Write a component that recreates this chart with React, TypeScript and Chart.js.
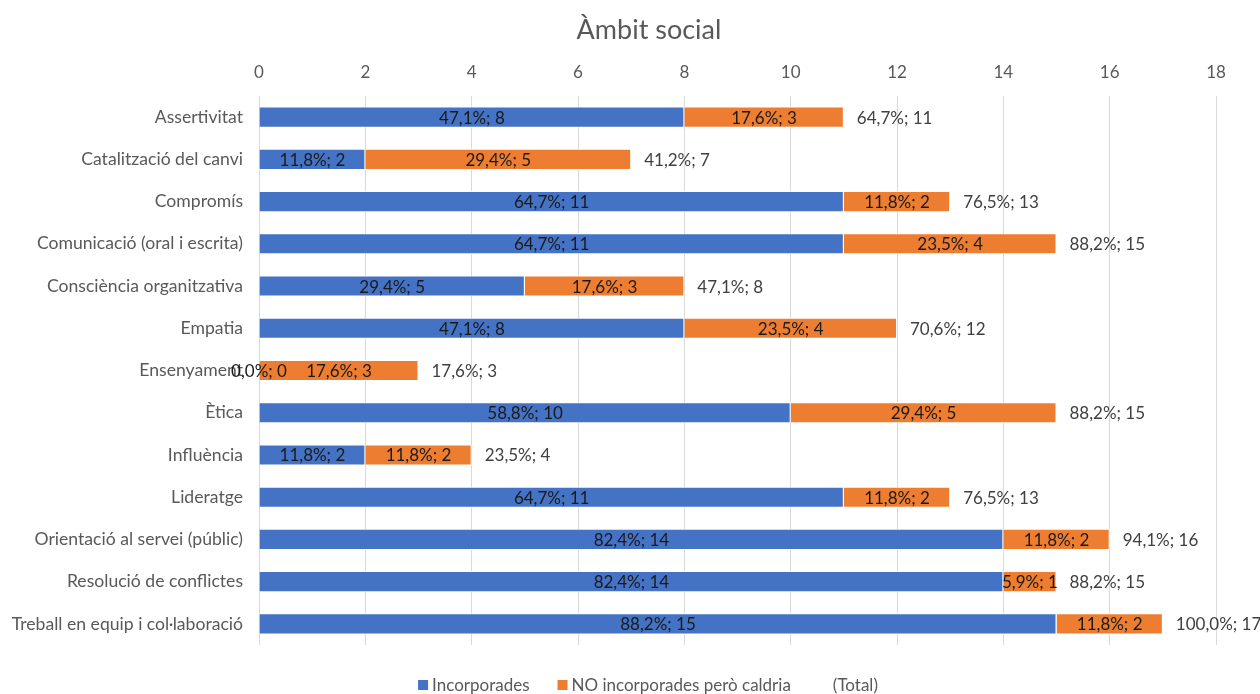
import React, { useEffect, useRef } from "react";
import { Chart, registerables } from "chart.js";

Chart.register(...registerables);

const categories = [
  "Assertivitat",
  "Catalització del canvi",
  "Compromís",
  "Comunicació (oral i escrita)",
  "Consciència organitzativa",
  "Empatia",
  "Ensenyament",
  "Ètica",
  "Influència",
  "Lideratge",
  "Orientació al servei (públic)",
  "Resolució de conflictes",
  "Treball en equip i col·laboració",
];

const incorporades = [8, 2, 11, 11, 5, 8, 0, 10, 2, 11, 14, 14, 15];
const noIncorporades = [3, 5, 2, 4, 3, 4, 3, 5, 2, 2, 2, 1, 2];
const totalMarker = [0, 0, 0, 0, 0, 0, 0, 0, 0, 0, 0, 0, 0];
const respondents = 17;
const xTicks = [0, 2, 4, 6, 8, 10, 12, 14, 16, 18];
const titleText = "Àmbit social";

const BLUE = "#4472C4";
const ORANGE = "#ED7D31";
const FONT = "Lato, 'Open Sans', sans-serif";
const FS = 17;

const pct = (v: number) => ((v / respondents) * 100).toFixed(1).replace(".", ",") + "%";

const labelsPlugin = {
  id: "segLabels",
  afterDatasetsDraw(chart: any) {
    const ctx = chart.ctx;
    ctx.save();
    ctx.font = `${FS}px ${FONT}`;
    ctx.textBaseline = "middle";
    [0, 1].forEach((di) => {
      const meta = chart.getDatasetMeta(di);
      const data = chart.data.datasets[di].data as number[];
      meta.data.forEach((el: any, i: number) => {
        const { x, base, y } = el.getProps(["x", "base", "y"], true);
        ctx.fillStyle = "#1a1a1a";
        ctx.textAlign = "center";
        ctx.fillText(`${pct(data[i])}; ${data[i]}`, (x + base) / 2, y + 1);
      });
    });
    const meta2 = chart.getDatasetMeta(2);
    meta2.data.forEach((el: any, i: number) => {
      const { x, y } = el.getProps(["x", "y"], true);
      const t = incorporades[i] + noIncorporades[i];
      ctx.fillStyle = "#404040";
      ctx.textAlign = "left";
      ctx.fillText(`${pct(t)}; ${t}`, x + 13, y + 1);
    });
    ctx.restore();
  },
};

const legendPlugin = {
  id: "customLegend",
  afterDraw(chart: any) {
    const ctx = chart.ctx;
    ctx.save();
    // title
    ctx.font = `27px ${FONT}`;
    ctx.fillStyle = "#595959";
    ctx.textAlign = "center";
    ctx.textBaseline = "middle";
    ctx.fillText(titleText, 649, 30);
    // legend
    ctx.font = `${FS}px ${FONT}`;
    ctx.textBaseline = "middle";
    ctx.textAlign = "left";
    const items = chart.data.datasets.map((d: any) => ({ label: d.label, color: d.backgroundColor }));
    const box = 10, gapBox = 4, gapItem = 28;
    const widths = items.map((it: any) => box + gapBox + ctx.measureText(it.label).width);
    const total = widths.reduce((a: number, b: number) => a + b, 0) + gapItem * (items.length - 1);
    let x = 648 - total / 2;
    const y = 685;
    items.forEach((it: any, i: number) => {
      if (it.color !== "transparent") {
        ctx.fillStyle = it.color;
        ctx.fillRect(x, y - 5, box, box);
      }
      ctx.fillStyle = "#595959";
      ctx.fillText(it.label, x + box + gapBox, y + 1);
      x += widths[i] + gapItem;
    });
    ctx.restore();
  },
};

export default function App() {
  const ref = useRef<HTMLCanvasElement>(null);
  useEffect(() => {
    document.body.style.margin = "0";
    const chart = new Chart(ref.current!, {
      type: "bar",
      data: {
        labels: categories,
        datasets: [
          {
            label: "Incorporades",
            data: incorporades,
            backgroundColor: BLUE,
            borderColor: "#ffffff",
            borderWidth: 1,
            barPercentage: 0.5,
            categoryPercentage: 1,
          },
          {
            label: "NO incorporades però caldria",
            data: noIncorporades,
            backgroundColor: ORANGE,
            borderColor: "#ffffff",
            borderWidth: 1,
            barPercentage: 0.5,
            categoryPercentage: 1,
          },
          {
            label: "(Total)",
            data: totalMarker,
            backgroundColor: "transparent",
            borderWidth: 0,
            barPercentage: 0.5,
            categoryPercentage: 1,
          },
        ],
      },
      options: {
        indexAxis: "y",
        responsive: false,
        animation: false,
        layout: { padding: { left: 0, right: 44, top: 49, bottom: 49 } },
        plugins: {
          legend: { display: false },
          tooltip: { enabled: false },
          title: { display: false },
        },
        scales: {
          x: {
            position: "top",
            stacked: true,
            min: 0,
            max: 18,
            afterBuildTicks: (s: any) => {
              s.ticks = xTicks.map((v) => ({ value: v }));
            },
            afterFit: (s: any) => {
              s.height = 47;
            },
            grid: { color: "#d9d9d9", drawTicks: false },
            border: { display: false },
            ticks: { color: "#595959", font: { family: FONT, size: FS }, padding: 13 },
          },
          y: {
            stacked: true,
            afterFit: (s: any) => {
              s.width = 259;
            },
            grid: { display: false, drawTicks: false },
            border: { display: false },
            ticks: { color: "#595959", font: { family: FONT, size: 17.6 }, padding: 16, autoSkip: false },
          },
        },
      },
      plugins: [labelsPlugin, legendPlugin],
    } as any);
    return () => chart.destroy();
  }, []);
  return (
    <div style={{ width: 1260, height: 694, background: "#fff" }}>
      <canvas ref={ref} width={1260} height={694} />
    </div>
  );
}
